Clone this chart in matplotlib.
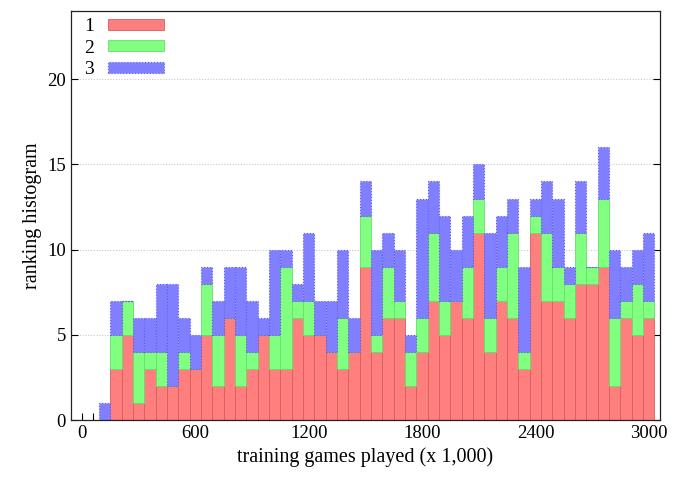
import numpy as np
import matplotlib
matplotlib.use('Agg')
import matplotlib.pyplot as plt

# bin centres (training games played, in thousands)
games = np.arange(120, 3001, 60)

# counts per rank, stacked 1 -> 2 -> 3
rank1 = [0, 3, 5, 1, 3, 2, 2, 3, 3, 5, 2, 6, 2, 3, 5, 3, 3, 6, 5, 5,
         4, 3, 4, 9, 4, 6, 6, 2, 4, 7, 5, 7, 6, 11, 4, 7, 6, 3, 11, 7,
         7, 6, 8, 8, 9, 2, 6, 5, 6]
rank2 = [0, 2, 2, 3, 1, 2, 0, 1, 0, 3, 3, 0, 3, 1, 0, 2, 6, 1, 2, 0,
         0, 3, 0, 3, 1, 3, 1, 2, 2, 4, 2, 0, 3, 2, 2, 2, 5, 1, 1, 4,
         2, 2, 3, 1, 4, 4, 1, 3, 1]
rank3 = [1, 2, 0, 2, 2, 4, 6, 2, 2, 1, 2, 3, 4, 3, 1, 5, 1, 1, 4, 2,
         3, 4, 2, 2, 5, 2, 3, 1, 7, 3, 5, 3, 3, 2, 5, 3, 2, 5, 1, 3,
         4, 1, 3, 0, 3, 4, 2, 2, 4]

labels = ['1', '2', '3']

plt.rcParams['font.family'] = ['Liberation Serif', 'DejaVu Serif']
plt.rcParams['font.size'] = 13.5

fig = plt.figure(figsize=(6.84, 4.79), dpi=100)
ax = fig.add_axes([0.1034, 0.123, 0.8616, 0.854])

r1 = np.array(rank1)
r2 = np.array(rank2)
r3 = np.array(rank3)

ax.bar(games, r1, width=60, color='#ff7f7f', edgecolor='#d85c5c', linewidth=0.6, label=labels[0])
ax.bar(games, r2, width=60, bottom=r1, color='#80ff80', edgecolor='#66e066', linewidth=0.6, label=labels[1])
ax.bar(games, r3, width=60, bottom=r1 + r2, color='#7f7fff', edgecolor='#5c5ce8', linewidth=0.8,
       linestyle=':', label=labels[2])

ax.set_xlim(-60, 3060)
ax.set_ylim(0, 24)
ax.set_xticks(np.arange(0, 3001, 600))
ax.set_xticks(np.arange(0, 3001, 60), minor=True)
ax.set_yticks([0, 5, 10, 15, 20])
ax.tick_params(axis='both', which='major', direction='in', length=5, width=0.8, right=True)
ax.tick_params(axis='x', which='minor', direction='in', length=5, width=0.8)
ax.tick_params(axis='y', which='minor', left=False, right=False)
ax.set_axisbelow(True)
ax.yaxis.grid(True, color='#c8c8c8', linestyle=(0, (1, 1.5)), linewidth=0.8)

for s in ax.spines.values():
    s.set_linewidth(0.9)
    s.set_color('#222222')

ax.set_xlabel('training games played (x 1,000)', fontsize=14.5)
ax.set_ylabel('ranking histogram', fontsize=14.5)

ax.legend(loc='upper left', bbox_to_anchor=(0.0, 1.015), frameon=False, markerfirst=False,
          handlelength=2.9, handleheight=0.5, handletextpad=0.7, labelspacing=0.22,
          borderaxespad=0.3, fontsize=14)

fig.savefig('out.png', dpi=100)
